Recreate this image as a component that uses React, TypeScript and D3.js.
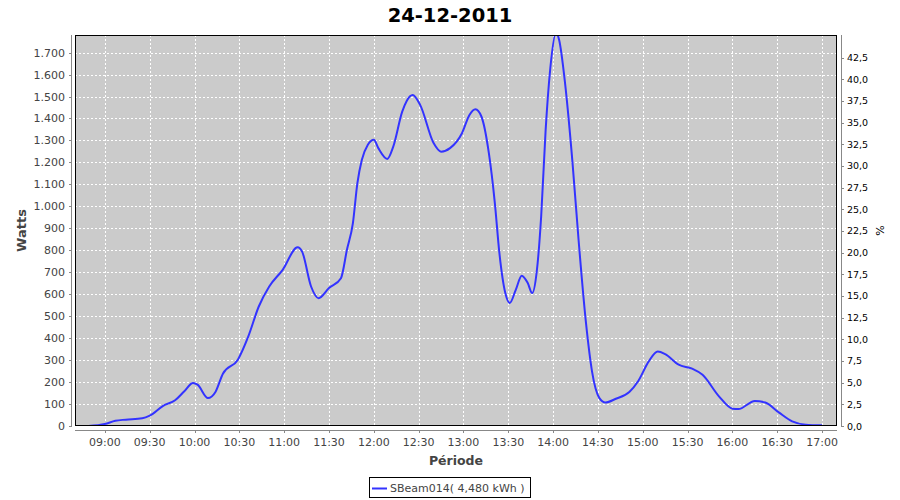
import React from "react";
import * as d3 from "d3";

const times: string[] = [
  "08:49", "09:00", "09:07", "09:14", "09:25", "09:30", "09:39", "09:47", "09:53", "09:59",
  "10:02", "10:09", "10:14", "10:19", "10:29", "10:36", "10:43", "10:50", "10:59", "11:09",
  "11:12", "11:18", "11:23", "11:30", "11:38", "11:42", "11:46", "11:49", "11:52", "11:56",
  "12:00", "12:03", "12:09", "12:13", "12:19", "12:22", "12:26", "12:31", "12:40", "12:45",
  "12:51", "12:59", "13:04", "13:08", "13:12", "13:17", "13:21", "13:24", "13:28", "13:31",
  "13:35", "13:39", "13:43", "13:46", "13:49", "13:52", "13:55", "13:58", "14:02", "14:04",
  "14:08", "14:13", "14:17", "14:22", "14:26", "14:31", "14:35", "14:42", "14:51", "14:57",
  "15:04", "15:10", "15:15", "15:24", "15:33", "15:40", "15:51", "16:00", "16:04", "16:15",
  "16:22", "16:31", "16:40", "16:49", "17:00",
];
const watts: number[] = [
  0, 9, 24, 29, 35, 47, 92, 117, 157, 196,
  188, 127, 155, 238, 302, 408, 544, 635, 711, 814,
  794, 635, 582, 628, 673, 802, 924, 1106, 1212, 1280,
  1303, 1265, 1216, 1272, 1431, 1480, 1507, 1462, 1288, 1249,
  1265, 1333, 1416, 1442, 1409, 1242, 1015, 790, 605, 560,
  620, 684, 651, 605, 700, 954, 1348, 1620, 1790, 1758,
  1560, 1197, 850, 469, 250, 127, 107, 124, 155, 205,
  294, 339, 327, 279, 261, 233, 135, 79, 77, 114,
  107, 62, 21, 6, 3,
];
const xTickLabels: string[] = [
  "09:00", "09:30", "10:00", "10:30", "11:00", "11:30", "12:00", "12:30", "13:00",
  "13:30", "14:00", "14:30", "15:00", "15:30", "16:00", "16:30", "17:00",
];
const leftTicks: number[] = d3.range(0, 1701, 100);
const rightTicks: number[] = d3.range(0, 42.51, 2.5);
const title = "24-12-2011";
const seriesName = "SBeam014( 4,480 kWh )";

const parseT = d3.timeParse("%Y-%m-%d %H:%M");
const day = "2011-12-24";
const T = (s: string) => parseT(`${day} ${s}`) as Date;

const loc = d3.formatLocale({ decimal: ",", thousands: ".", grouping: [3], currency: ["", ""] });
const fmtLeft = loc.format(",d");
const fmtRight = loc.format(".1f");

export default function App() {
  const L = 75, R = 837, TOP = 35, B = 426;
  const x = d3.scaleTime().domain([T("08:40"), T("17:10")]).range([L, R]);
  const y = d3.scaleLinear().domain([0, 1780]).range([B, TOP]);
  const y2 = d3.scaleLinear().domain([0, 45.1]).range([B, TOP]);
  const data = times.map((t, i) => ({ t: T(t), v: watts[i] }));
  const line = d3
    .line<{ t: Date; v: number }>()
    .x((d) => x(d.t))
    .y((d) => y(d.v))
    .curve(d3.curveMonotoneX);
  const font = "'DejaVu Sans', sans-serif";
  const grey = "#444";
  return (
    <svg width={900} height={500} style={{ position: "absolute", left: 0, top: 0, background: "#fff" }}>
      <defs>
        <clipPath id="plot">
          <rect x={L} y={TOP} width={R - L} height={B - TOP} />
        </clipPath>
      </defs>
      <text x={450} y={22} textAnchor="middle" fontFamily={font} fontWeight="bold" fontSize={19.5} fill="#000">
        {title}
      </text>
      <rect x={L} y={TOP} width={R - L} height={B - TOP} fill="#cbcbcb" />
      {leftTicks.map((v) => (
        <line key={"gy" + v} x1={L} x2={R} y1={Math.round(y(v)) + 0.5} y2={Math.round(y(v)) + 0.5} stroke="#fff" strokeDasharray="2,2" />
      ))}
      {xTickLabels.map((s) => (
        <line key={"gx" + s} y1={TOP} y2={B} x1={Math.round(x(T(s))) + 0.5} x2={Math.round(x(T(s))) + 0.5} stroke="#fff" strokeDasharray="2,2" />
      ))}
      <path d={line(data) || ""} fill="none" stroke="#3333ff" strokeWidth={2} clipPath="url(#plot)" />
      <rect x={L + 0.5} y={TOP + 0.5} width={R - L - 1} height={B - TOP - 1} fill="none" stroke="#000" />
      {/* left axis */}
      <line x1={71.5} x2={71.5} y1={TOP} y2={B + 1} stroke="#888" />
      {leftTicks.map((v) => (
        <g key={"ly" + v}>
          <line x1={69} x2={71.5} y1={Math.round(y(v)) + 0.5} y2={Math.round(y(v)) + 0.5} stroke="#888" />
          <text x={65} y={y(v) + 4} textAnchor="end" fontFamily={font} fontSize={11} fill={grey}>
            {fmtLeft(v)}
          </text>
        </g>
      ))}
      <text transform={`translate(26,${(TOP + B) / 2}) rotate(-90)`} textAnchor="middle" fontFamily={font} fontWeight="bold" fontSize={13} fill={grey}>
        Watts
      </text>
      {/* bottom axis */}
      <line x1={L} x2={R} y1={430.5} y2={430.5} stroke="#888" />
      {xTickLabels.map((s) => (
        <g key={"bx" + s}>
          <line x1={Math.round(x(T(s))) + 0.5} x2={Math.round(x(T(s))) + 0.5} y1={430.5} y2={433} stroke="#888" />
          <text x={x(T(s))} y={446} textAnchor="middle" fontFamily={font} fontSize={11} fill={grey}>
            {s}
          </text>
        </g>
      ))}
      <text x={(L + R) / 2} y={465} textAnchor="middle" fontFamily={font} fontWeight="bold" fontSize={12.5} fill={grey}>
        Période
      </text>
      {/* right axis */}
      <line x1={841.5} x2={841.5} y1={TOP} y2={B + 1} stroke="#888" />
      {rightTicks.map((v) => (
        <g key={"ry" + v}>
          <line x1={841.5} x2={844} y1={Math.round(y2(v)) + 0.5} y2={Math.round(y2(v)) + 0.5} stroke="#888" />
          <text x={847} y={y2(v) + 3.5} textAnchor="start" fontFamily={font} fontSize={9.5} fill="#000">
            {fmtRight(v)}
          </text>
        </g>
      ))}
      <text transform={`translate(884,${(TOP + B) / 2}) rotate(-90)`} textAnchor="middle" fontFamily={font} fontSize={11} fill="#000">
        %
      </text>
      {/* legend */}
      <rect x={369.5} y={477.5} width={161} height={20} fill="#fff" stroke="#000" />
      <line x1={372} x2={387} y1={488.5} y2={488.5} stroke="#3333ff" strokeWidth={2} />
      <text x={390} y={492} fontFamily={font} fontSize={11} fill={grey}>
        {seriesName}
      </text>
    </svg>
  );
}
